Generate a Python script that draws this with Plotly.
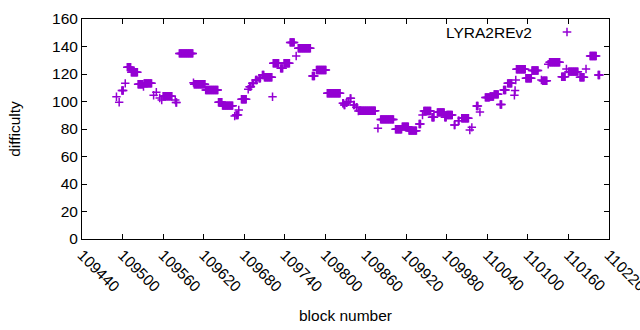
import plotly.graph_objects as go

# Runs of blocks with constant difficulty: first block, last block, difficulty
run_first = [109491, 109495, 109499, 109504, 109507, 109513, 109523, 109531, 109532, 109546,
             109550, 109555, 109558, 109560, 109578, 109579, 109584, 109605, 109606, 109623,
             109642, 109648, 109666, 109668, 109672, 109676, 109686, 109688, 109692, 109697,
             109702, 109707, 109710, 109722, 109723, 109734, 109739, 109748, 109757, 109760,
             109781, 109787, 109803, 109826, 109828, 109831, 109834, 109837, 109842, 109846,
             109849, 109851, 109878, 109882, 109904, 109914, 109924, 109939, 109944, 109946,
             109958, 109966, 109977, 109980, 109991, 109997, 110002, 110014, 110017, 110024,
             110029, 110037, 110044, 110050, 110059, 110064, 110070, 110080, 110081, 110082,
             110083, 110097, 110106, 110120, 110122, 110130, 110132, 110150, 110157, 110160,
             110177, 110186, 110192, 110204]
run_last = [109491, 109495, 109501, 109504, 109512, 109522, 109530, 109531, 109543, 109546,
            109550, 109555, 109558, 109573, 109578, 109580, 109604, 109605, 109622, 109641,
            109647, 109663, 109666, 109671, 109672, 109683, 109686, 109690, 109694, 109699,
            109704, 109709, 109721, 109722, 109731, 109737, 109747, 109754, 109757, 109778,
            109784, 109801, 109822, 109827, 109829, 109832, 109835, 109838, 109843, 109847,
            109849, 109874, 109878, 109901, 109913, 109923, 109935, 109941, 109944, 109956,
            109961, 109976, 109979, 109988, 109992, 109998, 110012, 110014, 110017, 110026,
            110029, 110043, 110049, 110056, 110061, 110067, 110076, 110080, 110081, 110082,
            110096, 110105, 110115, 110120, 110128, 110130, 110147, 110155, 110157, 110174,
            110183, 110186, 110201, 110206]
run_difficulty = [103.5, 99.4, 108.0, 113.2, 125.0, 121.3, 112.5, 110.8, 113.2, 104.5,
                  106.8, 102.5, 101.1, 103.8, 101.1, 99.3, 135.0, 113.7, 112.5, 108.4,
                  99.5, 97.0, 89.5, 90.2, 93.8, 101.6, 108.9, 110.8, 113.2, 115.6,
                  116.9, 119.3, 117.6, 103.5, 127.8, 124.1, 127.8, 143.0, 133.1, 138.7,
                  118.5, 122.9, 106.0, 98.7, 97.5, 99.0, 99.9, 102.3, 97.5, 95.8,
                  93.1, 93.3, 80.5, 87.0, 79.8, 81.7, 78.8, 83.6, 90.2, 93.1,
                  88.5, 92.1, 88.5, 90.2, 82.9, 86.0, 87.8, 79.3, 81.2, 96.7,
                  92.4, 103.0, 103.6, 105.2, 97.8, 108.4, 113.2, 104.5, 108.0, 115.6,
                  123.4, 116.9, 122.6, 115.6, 115.1, 127.1, 128.5, 118.0, 123.6, 121.7,
                  117.6, 123.6, 133.1, 119.3]

x_ticks = [109440, 109500, 109560, 109620, 109680, 109740, 109800, 109860, 109920,
           109980, 110040, 110100, 110160, 110220]
y_ticks = [0, 20, 40, 60, 80, 100, 120, 140, 160]
series_name = "LYRA2REv2"

blocks, diffs = [], []
for a, b, d in zip(run_first, run_last, run_difficulty):
    for blk in range(a, b + 1):
        blocks.append(blk)
        diffs.append(d)

COLOR = "#9400D3"
FONT = "Liberation Sans, Arial, sans-serif"

fig = go.Figure()
fig.add_trace(go.Scatter(
    x=blocks, y=diffs, mode="markers", name=series_name, showlegend=False,
    marker=dict(symbol="cross-thin", size=6.0, color=COLOR,
                line=dict(color=COLOR, width=1.5)),
))

L, R, T, B = 82, 31, 19, 91
W, H = 640, 330
pw, ph = W - L - R, H - T - B

def px_x(p):
    return (p - L) / pw

def px_y(p):
    return (H - B - p) / ph

# legend (gnuplot style: text then sample)
fig.add_annotation(text=series_name, xref="paper", yref="paper",
                   x=px_x(534), y=px_y(32), xanchor="right", yanchor="middle",
                   showarrow=False, font=dict(family=FONT, size=15.5, color="black"))
cx, cy, arm = 567, 32, 4.3
fig.add_shape(type="line", xref="paper", yref="paper",
              x0=px_x(cx - arm), x1=px_x(cx + arm), y0=px_y(cy), y1=px_y(cy),
              line=dict(color=COLOR, width=1.5))
fig.add_shape(type="line", xref="paper", yref="paper",
              x0=px_x(cx), x1=px_x(cx), y0=px_y(cy - arm), y1=px_y(cy + arm),
              line=dict(color=COLOR, width=1.5))

axis_common = dict(showline=True, linecolor="black", linewidth=1, mirror="allticks",
                   ticks="inside", ticklen=5, tickcolor="black", showgrid=False,
                   zeroline=False, automargin=False, ticklabeloverflow="allow",
                   tickfont=dict(family=FONT, size=15.5, color="black"))

fig.update_layout(
    width=W, height=H,
    margin=dict(l=L, r=R, t=T, b=B, autoexpand=False),
    paper_bgcolor="white", plot_bgcolor="white",
    font=dict(family=FONT, size=15.5, color="black"),
    xaxis=dict(range=[x_ticks[0] - 0.01, x_ticks[-1] + 0.01], tickvals=x_ticks,
               ticktext=[str(v) for v in x_ticks], tickangle=45,
               title=dict(text="block number", standoff=15,
                          font=dict(family=FONT, size=15.5)),
               **axis_common),
    yaxis=dict(range=[0, 160], tickvals=y_ticks,
               title=dict(text="difficulty", standoff=27,
                          font=dict(family=FONT, size=15.5)),
               **axis_common),
)

fig.write_html("out.html", config={"displayModeBar": False},
               post_script="document.body.style.margin='0';document.body.style.overflow='hidden';")
